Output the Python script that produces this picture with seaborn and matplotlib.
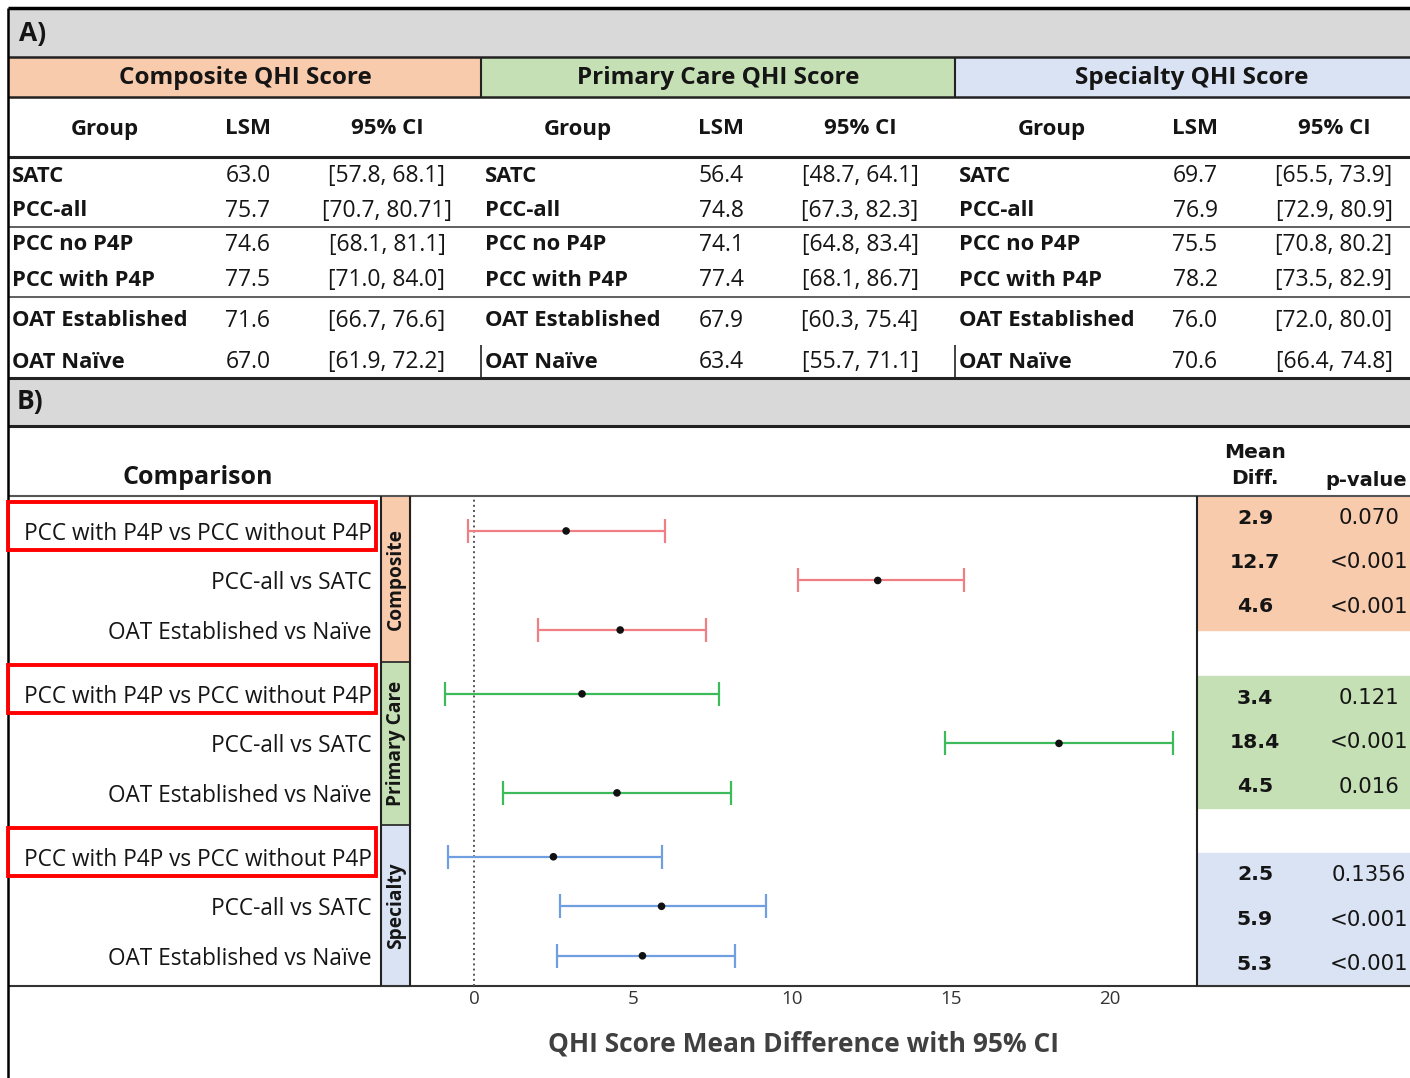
import numpy as np
import pandas as pd
import seaborn as sns
import matplotlib.pyplot as plt
import matplotlib.transforms as mtransforms
from matplotlib.patches import Rectangle

# ---- panel A: least-squares means by group ----
groups = ['SATC', 'PCC-all', 'PCC no P4P', 'PCC with P4P', 'OAT Established', 'OAT Naïve']
score_titles = ['Composite QHI Score', 'Primary Care QHI Score', 'Specialty QHI Score']
composite_lsm = [63.0, 75.7, 74.6, 77.5, 71.6, 67.0]
composite_ci = ['[57.8, 68.1]', '[70.7, 80.71]', '[68.1, 81.1]', '[71.0, 84.0]', '[66.7, 76.6]', '[61.9, 72.2]']
primary_lsm = [56.4, 74.8, 74.1, 77.4, 67.9, 63.4]
primary_ci = ['[48.7, 64.1]', '[67.3, 82.3]', '[64.8, 83.4]', '[68.1, 86.7]', '[60.3, 75.4]', '[55.7, 71.1]']
specialty_lsm = [69.7, 76.9, 75.5, 78.2, 76.0, 70.6]
specialty_ci = ['[65.5, 73.9]', '[72.9, 80.9]', '[70.8, 80.2]', '[73.5, 82.9]', '[72.0, 80.0]', '[66.4, 74.8]']

# ---- panel B: mean differences ----
domains = ['Composite', 'Primary Care', 'Specialty']
comparisons = ['PCC with P4P vs PCC without P4P', 'PCC-all vs SATC', 'OAT Established vs Naïve']
mean_diff = [2.9, 12.7, 4.6, 3.4, 18.4, 4.5, 2.5, 5.9, 5.3]
ci_low = [-0.2, 10.2, 2.0, -0.9, 14.8, 0.9, -0.8, 2.7, 2.6]
ci_high = [6.0, 15.4, 7.3, 7.7, 22.0, 8.1, 5.9, 9.2, 8.2]
p_values = ['0.070', '<0.001', '<0.001', '0.121', '<0.001', '0.016', '0.1356', '<0.001', '<0.001']

fills = ['#f8cbad', '#c5e0b4', '#dae3f3']
line_colors = ['#ef7f84', '#3dbb5a', '#6f9fe0']

sns.set_theme(style='white')
plt.rcParams['font.family'] = ['Open Sans', 'DejaVu Sans']
TXT = '#151515'

W, H = 1410, 1078
fig = plt.figure(figsize=(W / 100, H / 100), dpi=100)
bg = fig.add_axes([0, 0, 1, 1])
bg.set_xlim(0, W)
bg.set_ylim(H, 0)
bg.axis('off')


def hline(y, x0=8, x1=W, lw=1.5, color='#222'):
    bg.plot([x0, x1], [y, y], color=color, lw=lw, solid_capstyle='butt', zorder=5)


def vline(x, y0, y1, lw=1.5, color='#222'):
    bg.plot([x, x], [y0, y1], color=color, lw=lw, solid_capstyle='butt', zorder=5)


# ---------------- panel A ----------------
bg.add_patch(Rectangle((8, 8), W - 8, 49, color='#d9d9d9', zorder=1))
bg.text(19, 33, 'A)', fontsize=19, fontweight='bold', va='center', color=TXT)

block_x = [8, 481, 955]
block_w = [473, 474, 455]
lsm_cols = [composite_lsm, primary_lsm, specialty_lsm]
ci_cols = [composite_ci, primary_ci, specialty_ci]
row_y = [176, 211, 245, 280, 321, 362]

for b, x0 in enumerate(block_x):
    bg.add_patch(Rectangle((x0, 57), block_w[b], 40, color=fills[b], zorder=1))
    bg.text(x0 + 237, 78, score_titles[b], fontsize=17.5, fontweight='bold',
            ha='center', va='center', color=TXT)
    for dx, lab in zip([97, 240, 379], ['Group', 'LSM', '95% CI']):
        bg.text(x0 + dx, 129, lab, fontsize=16, fontweight='bold',
                ha='center', va='center', color=TXT)
    for r, y in enumerate(row_y):
        bg.text(x0 + 4, y, groups[r], fontsize=15.8, fontweight='bold',
                ha='left', va='center', color=TXT)
        bg.text(x0 + 240, y, f'{lsm_cols[b][r]:.1f}', fontsize=16.5,
                ha='center', va='center', color=TXT)
        bg.text(x0 + 379, y, ci_cols[b][r], fontsize=16.5,
                ha='center', va='center', color=TXT)

hline(8, lw=2.5, color='#000')
hline(57, lw=1.8)
hline(97, lw=1.8)
hline(157, lw=2.2)
hline(227, lw=1.2, color='#444')
hline(297, lw=1.2, color='#444')
hline(378, lw=2.2)
for x in [481, 955]:
    vline(x, 57, 97, lw=1.5)
    vline(x, 345, 378, lw=1.2)

# ---------------- panel B ----------------
bg.add_patch(Rectangle((8, 378), W - 8, 48, color='#d9d9d9', zorder=1))
bg.text(17, 402, 'B)', fontsize=19, fontweight='bold', va='center', color=TXT)
hline(426, lw=2.2)
bg.text(198, 477, 'Comparison', fontsize=18, fontweight='bold',
        ha='center', va='center', color=TXT)
bg.text(1255, 453, 'Mean', fontsize=14.5, fontweight='bold', family='DejaVu Sans',
        ha='center', va='center', color=TXT)
bg.text(1255, 479, 'Diff.', fontsize=14.5, fontweight='bold', family='DejaVu Sans',
        ha='center', va='center', color=TXT)
bg.text(1366, 480, 'p-value', fontsize=14, fontweight='bold', family='DejaVu Sans',
        ha='center', va='center', color=TXT)

# domain strips and right-hand value table
strip_y = [(496, 662), (662, 825), (825, 986)]
table_y = [(496, 630), (676, 808), (853, 986)]
for g, dom in enumerate(domains):
    s0, s1 = strip_y[g]
    bg.add_patch(Rectangle((381, s0), 29, s1 - s0, color=fills[g], zorder=1))
    bg.text(396, (s0 + s1) / 2, dom, rotation=90, fontsize=13.8, fontweight='bold',
            ha='center', va='center', color=TXT)
    t0, t1 = table_y[g]
    bg.add_patch(Rectangle((1197, t0), W - 1197, t1 - t0, color=fills[g], zorder=1))
    for i in range(3):
        k = g * 3 + i
        yy = t0 + 22 + i * 44.5
        bg.text(1255, yy, f'{mean_diff[k]:.1f}', fontsize=14.7, fontweight='bold',
                family='DejaVu Sans', ha='center', va='center', color=TXT)
        bg.text(1369, yy, p_values[k], fontsize=15.3, family='DejaVu Sans',
                ha='center', va='center', color=TXT)

hline(496, lw=1.5, color='#555')
hline(986, lw=1.5, color='#333')
vline(381, 496, 986, lw=1.5)
vline(410, 496, 986, lw=1.5)
vline(1197, 496, 986, lw=1.5)
for y in [662, 825]:
    bg.plot([381, 410], [y, y], color='#222', lw=1.2, zorder=5)
vline(8, 8, H, lw=1.8, color='#000')

# forest plot
df = pd.DataFrame({
    'domain': np.repeat(domains, 3),
    'comparison': comparisons * 3,
    'mean_diff': mean_diff,
    'ci_low': ci_low,
    'ci_high': ci_high,
})
df['g'] = np.repeat(np.arange(3), 3)
df['row'] = np.tile(np.arange(3), 3)
group_gap = 0.29
df['ypos'] = df['g'] * (3 + group_gap) + df['row']

ax = fig.add_axes([410 / W, 1 - 986 / H, (1197 - 410) / W, (986 - 496) / H])
ax.patch.set_visible(False)
ax.axvline(0, color='#555', ls=':', lw=1.4, zorder=1)
for g, dom in enumerate(domains):
    sub = df[df['domain'] == dom]
    ax.errorbar(sub['mean_diff'], sub['ypos'],
                xerr=[sub['mean_diff'] - sub['ci_low'], sub['ci_high'] - sub['mean_diff']],
                fmt='none', ecolor=line_colors[g], elinewidth=1.6, capsize=8.5,
                capthick=1.6, zorder=2)
sns.scatterplot(data=df, x='mean_diff', y='ypos', color='#111', s=30,
                edgecolor='none', legend=False, ax=ax, zorder=4)

ax.set_xlim(-2.01, 22.74)
ax.set_ylim(df['ypos'].max() + 0.61, -0.706)
ax.set_xticks([0, 5, 10, 15, 20])
ax.set_yticks(df['ypos'])
ax.set_yticklabels(df['comparison'], fontsize=16.3, color=TXT)
ax.tick_params(axis='y', length=0, pad=27.4)
ax.tick_params(axis='x', length=0, pad=3, labelsize=13.5, labelcolor='#333')
ax.set_ylabel('')
ax.set_xlabel('QHI Score Mean Difference with 95% CI', fontsize=19,
              fontweight='bold', color='#404040', labelpad=16)
for sp in ax.spines.values():
    sp.set_visible(False)

# red boxes around the P4P comparisons
trans = mtransforms.blended_transform_factory(bg.transData, ax.transData)
for y in df.loc[df['row'] == 0, 'ypos']:
    bg.add_patch(Rectangle((8, y - 0.58), 368, 0.97, transform=trans, fill=False,
                           edgecolor='#ff0000', lw=2.8, zorder=6, clip_on=False))

fig.savefig('out.png', dpi=100)
